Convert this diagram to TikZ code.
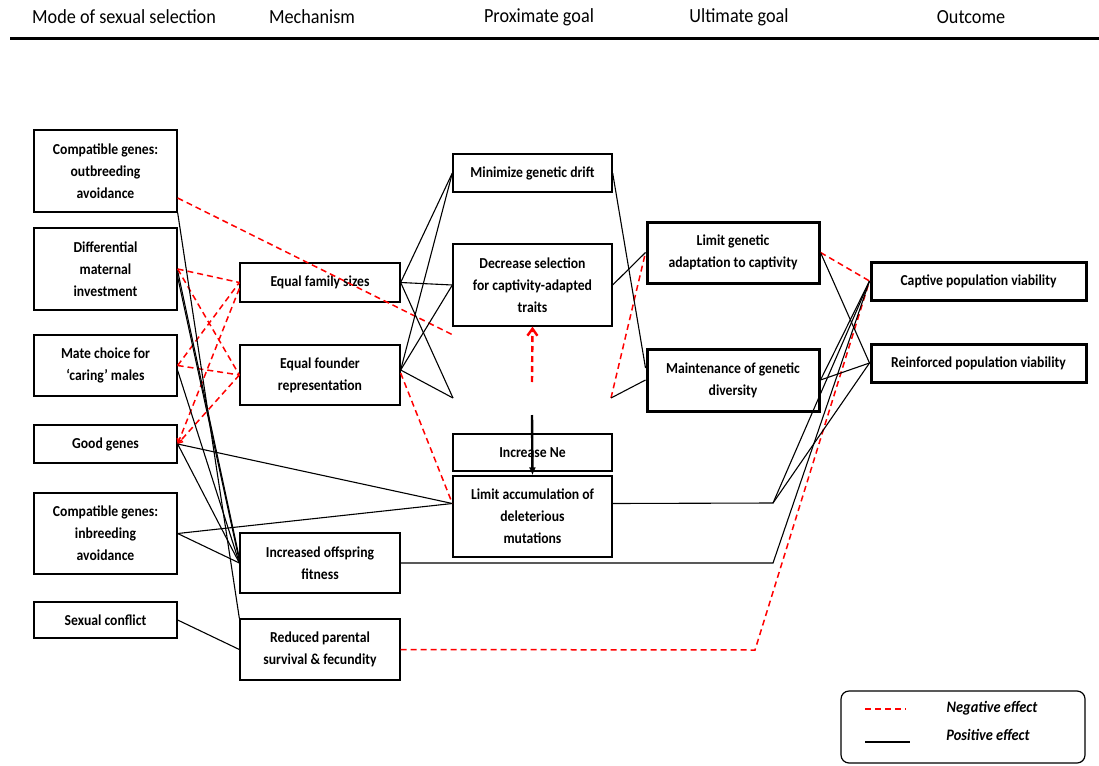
\documentclass[tikz,border=0pt]{standalone}
\usepackage{fontspec}
\setmainfont{Carlito}
\newfontfamily\hdrfont[FakeStretch=0.91]{Carlito}
\newfontfamily\boxfont[FakeStretch=0.9]{Carlito}
\usetikzlibrary{arrows.meta,calc}
\begin{document}
\begin{tikzpicture}[x=1pt,y=-1pt,
  box/.style={draw=black,line width=1.3pt,inner sep=0pt,align=center,font=\boxfont\fontsize{15.2}{22}\selectfont\bfseries},
  bbox/.style={box,line width=3pt},
  hdr/.style={font=\hdrfont\fontsize{20}{24}\selectfont},
  posline/.style={draw=black,line width=1.1pt},
  negline/.style={draw=red,line width=1.5pt,dash pattern=on 6pt off 4pt},
  legtxt/.style={font=\boxfont\fontsize{16}{18}\selectfont\bfseries\itshape}]
\useasboundingbox (0,0) rectangle (1099,765);
% header
\node[hdr] (h1) at (124,17) {Mode of sexual selection};
\node[hdr] (h2) at (312,17) {Mechanism};
\node[hdr] (h3) at (539,17) {Proximate goal};
\node[hdr] (h4) at (739,17) {Ultimate goal};
\node[hdr] (h5) at (971,17) {Outcome};
\coordinate (rl) at (10,38.5);
\coordinate (rr) at (1099,38.5);
\draw[line width=3pt] (rl) -- (rr);
% column 1
\node[box,minimum width=143,minimum height=82] (A1) at (105.5,171) {Compatible genes:\\outbreeding\\avoidance};
\node[box,minimum width=143,minimum height=82] (A2) at (105.5,269) {Differential\\maternal\\investment};
\node[box,minimum width=143,minimum height=61] (A3) at (105.5,365.5) {Mate choice for\\‘caring’ males};
\node[box,minimum width=143,minimum height=38] (A4) at (105.5,444) {Good genes};
\node[box,minimum width=143,minimum height=81] (A5) at (105.5,533.5) {Compatible genes:\\inbreeding\\avoidance};
\node[box,minimum width=143,minimum height=36] (A6) at (105.5,620) {Sexual conflict};
% column 2
\node[box,minimum width=160,minimum height=39] (B1) at (320,282.5) {Equal family sizes};
\node[box,minimum width=160,minimum height=60] (B2) at (320,375) {Equal founder\\representation};
\node[box,minimum width=160,minimum height=60] (B3) at (320,563) {Increased offspring\\fitness};
\node[box,minimum width=160,minimum height=61] (B4) at (320,649.5) {Reduced parental\\survival \& fecundity};
% column 3
\node[box,minimum width=159,minimum height=38] (C1) at (532.5,173) {Minimize genetic drift};
\node[box,minimum width=159,minimum height=82] (C2) at (532.5,285) {Decrease selection\\for captivity-adapted\\traits};
\node[box,minimum width=159,minimum height=37] (C3) at (532.5,452.5) {Increase Ne};
\node[box,minimum width=159,minimum height=81] (C4) at (532.5,516.5) {Limit accumulation of\\deleterious\\mutations};
% column 4
\node[bbox,minimum width=172,minimum height=61] (D1) at (733,252.5) {Limit genetic\\adaptation to captivity};
\node[bbox,minimum width=172,minimum height=62] (D2) at (733,380) {Maintenance of genetic\\diversity};
% column 5
\node[bbox,minimum width=215,minimum height=38] (E1) at (978.5,281) {Captive population viability};
\node[bbox,minimum width=215,minimum height=38] (E2) at (978.5,363) {Reinforced population viability};
% free points
\coordinate (fA) at (453,335);
\coordinate (fL) at (453,398);
\coordinate (fR) at (611,398);
\coordinate (rS) at (532,382);
\coordinate (bS) at (532,415);
\coordinate (k1) at (773,503);
\coordinate (k2) at (773,563);
\coordinate (k3) at (755,650);
% negative effects
\draw[negline] ($(A1.east)+(0,27)$) -- (fA);
\draw[negline] (A2.east) -- (B1.west);
\draw[negline] (A2.east) -- (B2.west);
\draw[negline] (A3.east) -- (B1.west);
\draw[negline] (A3.east) -- (B2.west);
\draw[negline,-{Straight Barb[length=4pt,width=5pt]}] ($(B1.west)+(0,6)$) -- (A4.east);
\draw[negline,-{Straight Barb[length=4pt,width=5pt]}] (B2.west) -- (A4.east);
\draw[negline] ($(B2.east)+(0,-2)$) -- ($(C4.west)+(0,-13)$);
\draw[negline,line width=2.4pt,-{Straight Barb[length=7pt,width=10pt]}] (rS) -- (C2.south);
\draw[negline] (fR) -- (D1.west);
\draw[negline] (D1.east) -- (E1.west);
\draw[negline] (B4.east) -- (k3) -- (E1.west);
% positive effects
\draw[posline] (A1.south east) -- (B4.north west);
\draw[posline] ($(A2.east)+(0,2)$) -- ($(B3.west)+(0,-5)$);
\draw[posline] ($(A2.east)+(0,8)$) -- ($(B3.west)+(0,-2)$);
\draw[posline] ($(A3.east)+(0,5)$) -- (B3.west);
\draw[posline] (A4.east) -- (B3.west);
\draw[posline] (A4.east) -- ($(C4.west)+(0,-13)$);
\draw[posline] (A5.east) -- ($(C4.west)+(0,-13)$);
\draw[posline] (A5.east) -- (B3.west);
\draw[posline] (A6.east) -- (B4.west);
\draw[posline] (B1.east) -- (C1.west);
\draw[posline] (B1.east) -- (C2.west);
\draw[posline] (B1.east) -- (fL);
\draw[posline] ($(B2.east)+(0,-5)$) -- (C1.west);
\draw[posline] ($(B2.east)+(0,-5)$) -- (C2.west);
\draw[posline] ($(B2.east)+(0,-5)$) -- (fL);
\draw[posline] (C1.east) -- ($(D2.west)+(0,-12)$);
\draw[posline] (C2.east) -- (D1.west);
\draw[posline] (fR) -- (D2.west);
\draw[posline] (D1.east) -- (E2.west);
\draw[posline] (D2.east) -- (E1.west);
\draw[posline] (D2.east) -- (E2.west);
\draw[posline] ($(C4.east)+(0,-13)$) -- (k1) -- (E1.west);
\draw[posline] (k1) -- (E2.west);
\draw[posline] (B3.east) -- (k2) -- (E1.west);
\draw[posline,line width=2.4pt,-{Latex[length=8pt,width=7pt]}] (bS) -- (C4.north);
% legend
\node[draw=black,line width=1.2pt,rounded corners=8pt,minimum width=244,minimum height=72,inner sep=0pt] (L) at (963,727) {};
\coordinate (ln1) at (865,709);
\coordinate (ln2) at (906,709);
\coordinate (lp1) at (865,742);
\coordinate (lp2) at (910,742);
\draw[negline] (ln1) -- (ln2);
\draw[posline,line width=1.6pt] (lp1) -- (lp2);
\node[legtxt] (Ln) at (992,708) {Negative effect};
\node[legtxt] (Lp) at (988,735) {Positive effect};
\end{tikzpicture}
\end{document}
